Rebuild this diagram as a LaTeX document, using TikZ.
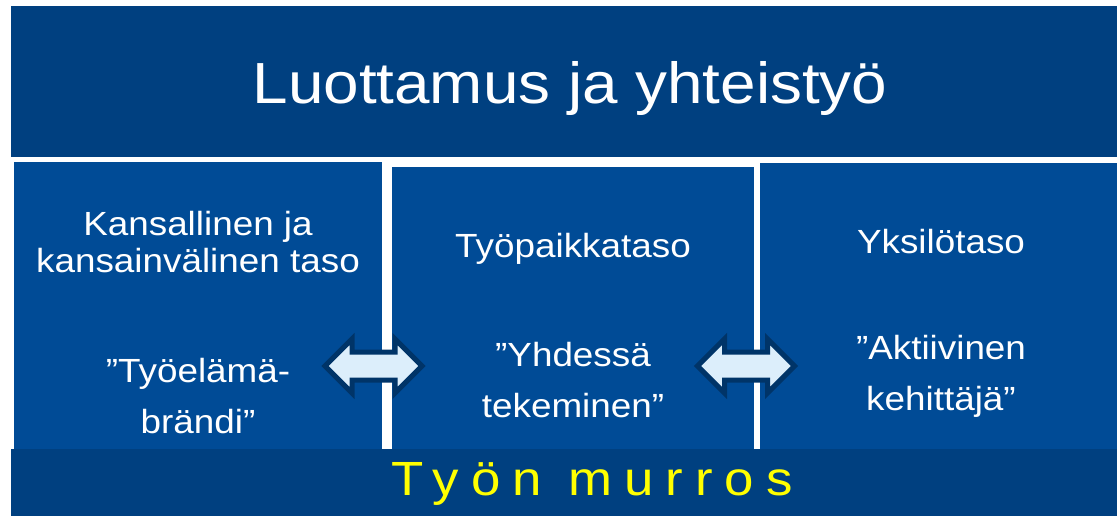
\documentclass[tikz,border=0pt]{standalone}
\usepackage{fontspec}
\setmainfont{Liberation Sans}[FakeStretch=1.1]
\newfontfamily\spacedfont{Liberation Sans}[FakeStretch=1.1,LetterSpace=25]
\usetikzlibrary{shapes.arrows}
\definecolor{bandblue}{RGB}{0,64,128}
\definecolor{panelblue}{RGB}{0,75,150}
\definecolor{arrowfill}{RGB}{220,238,251}
\definecolor{arrowline}{RGB}{0,52,104}
\definecolor{murrosyellow}{RGB}{255,255,0}

\begin{document}
\begin{tikzpicture}[x=1pt,y=-1pt,
    level/.style={text=white, align=center, anchor=base, inner sep=0pt,
      font=\fontsize{33.5}{37}\selectfont},
    quote/.style={text=white, align=center, anchor=base, inner sep=0pt,
      font=\fontsize{33.5}{51}\selectfont},
    link/.style={double arrow, double arrow head extend=13, minimum height=97,
      inner sep=11.5pt, fill=arrowfill, draw=arrowline, line width=5pt}]
    \useasboundingbox[fill=white] (0,0) rectangle (1117,516);

    % bands and panels
    \fill[bandblue] (11,6) rectangle (1117,157);
    \fill[panelblue] (14,162) rectangle (382,449);
    \fill[panelblue] (392,167) rectangle (754,449);
    \fill[panelblue] (760,163) rectangle (1117,449);
    \fill[bandblue] (11,449) rectangle (1117,516);

    \node[anchor=base, inner sep=0pt, text=white, font=\fontsize{58}{60}\selectfont]
      (trust) at (570,104) {Luottamus ja yhteistyö};

    % base anchor sits on the last line
    \node[level] (national) at (198,272) {Kansallinen ja\\kansainvälinen taso};
    \node[level] (workplace) at (573,257) {Työpaikkataso};
    \node[level] (individual) at (941,253) {Yksilötaso};

    \node[quote] (brand) at (198,433) {”Työelämä-\\brändi”};
    \node[quote] (together) at (573,417) {”Yhdessä\\tekeminen”};
    \node[quote] (active) at (941,410) {”Aktiivinen\\kehittäjä”};

    \node[link] (left link) at (373.5,366) {};
    \node[link] (right link) at (746,366) {};

    \node[anchor=base, inner sep=0pt, text=murrosyellow,
      font=\spacedfont\fontsize{48}{50}\selectfont] (murros) at (592,495) {Työn murros};
\end{tikzpicture}
\end{document}
